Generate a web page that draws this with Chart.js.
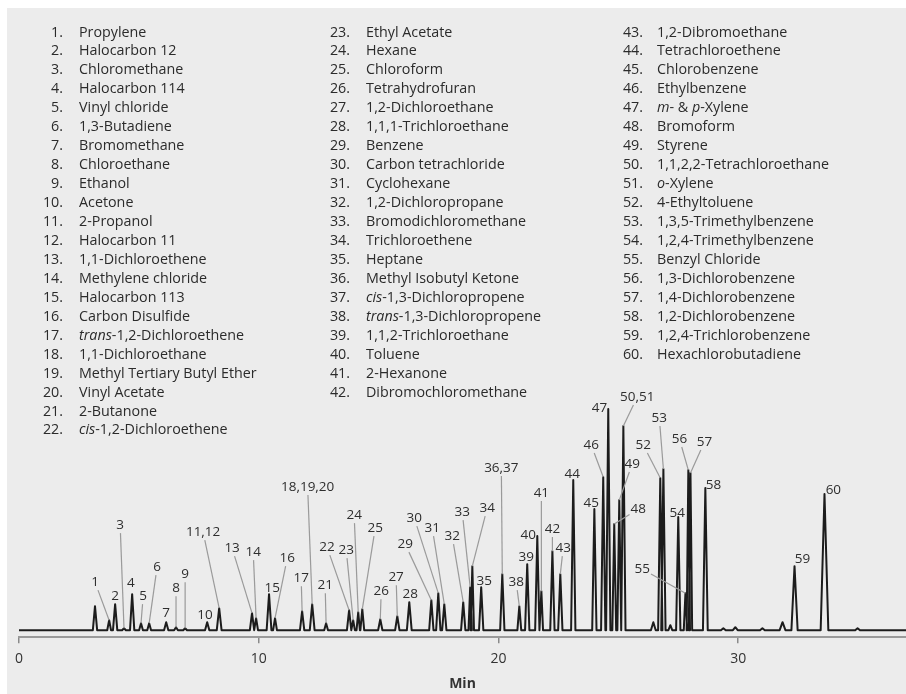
<!DOCTYPE html>
<html>
<head>
<meta charset="utf-8">
<script src="https://cdn.jsdelivr.net/npm/chart.js@4.4.1/dist/chart.umd.min.js"></script>
<style>
    html, body { margin: 0; padding: 0; background: #fff; }
    #page { position: relative; width: 906px; height: 694px; overflow: hidden; }
    #panel { position: absolute; left: 7px; top: 8px; right: 0; bottom: 0; background: #ececec; }
    #chromatogram { position: absolute; left: 0; top: 0; }
    .cmp { position: absolute; font-family: 'Open Sans', sans-serif; font-size: 14.3px; line-height: 19px; color: #2b2b2b; white-space: nowrap; }
    .cmp-num { text-align: right; width: 40px; }
</style>
</head>
<body>
<div id="page">
    <div id="panel"></div>
    <canvas id="chromatogram" width="906" height="694"></canvas>
    <div id="compoundList"></div>
</div>
<script>
// compound list (peak identification)
const compounds = [
    'Propylene', 'Halocarbon 12', 'Chloromethane', 'Halocarbon 114', 'Vinyl chloride',
    '1,3-Butadiene', 'Bromomethane', 'Chloroethane', 'Ethanol', 'Acetone',
    '2-Propanol', 'Halocarbon 11', '1,1-Dichloroethene', 'Methylene chloride', 'Halocarbon 113',
    'Carbon Disulfide', 'trans-1,2-Dichloroethene', '1,1-Dichloroethane', 'Methyl Tertiary Butyl Ether', 'Vinyl Acetate',
    '2-Butanone', 'cis-1,2-Dichloroethene', 'Ethyl Acetate', 'Hexane', 'Chloroform',
    'Tetrahydrofuran', '1,2-Dichloroethane', '1,1,1-Trichloroethane', 'Benzene', 'Carbon tetrachloride',
    'Cyclohexane', '1,2-Dichloropropane', 'Bromodichloromethane', 'Trichloroethene', 'Heptane',
    'Methyl Isobutyl Ketone', 'cis-1,3-Dichloropropene', 'trans-1,3-Dichloropropene', '1,1,2-Trichloroethane', 'Toluene',
    '2-Hexanone', 'Dibromochloromethane', '1,2-Dibromoethane', 'Tetrachloroethene', 'Chlorobenzene',
    'Ethylbenzene', 'm- & p-Xylene', 'Bromoform', 'Styrene', '1,1,2,2-Tetrachloroethane',
    'o-Xylene', '4-Ethyltoluene', '1,3,5-Trimethylbenzene', '1,2,4-Trimethylbenzene', 'Benzyl Chloride',
    '1,3-Dichlorobenzene', '1,4-Dichlorobenzene', '1,2-Dichlorobenzene', '1,2,4-Trichlorobenzene', 'Hexachlorobutadiene'
];
const columnSizes = [22, 20, 18];

// x axis
const xTicks = [0, 10, 20, 30];
const xMax = 37;

// peaks: retention time (min), height (response), half width at base (min)
const peakLabels = [
    '', '1', '2', '3', '4', '5', '6', '7', '8', '9',
    '10', '11,12', '13', '14', '15', '16', '17', '18,19,20', '21', '22',
    '23', '24', '25', '26', '27', '28', '29', '30', '31', '32',
    '33', '34', '35', '36,37', '38', '39', '40', '41', '42', '43',
    '44', '45', '46', '47', '48', '49', '50,51', '', '52', '53',
    '', '54', '55', '56', '57', '58', '', '', '', '',
    '59', '60', ''
];
const peakTimes = [
    3.17, 3.76, 4.01, 4.38, 4.72, 5.09, 5.43, 6.14, 6.55, 6.93,
    7.85, 8.35, 9.72, 9.89, 10.43, 10.68, 11.81, 12.23, 12.81, 13.77,
    13.94, 14.15, 14.32, 15.07, 15.78, 16.28, 17.20, 17.49, 17.74, 18.53,
    18.82, 18.91, 19.28, 20.16, 20.87, 21.20, 21.62, 21.79, 22.25, 22.58,
    23.12, 24.00, 24.37, 24.58, 24.83, 25.04, 25.21, 26.46, 26.75, 26.88,
    27.17, 27.50, 27.80, 27.92, 28.01, 28.63, 29.38, 29.88, 31.01, 31.85,
    32.35, 33.60, 34.98
];
const peakHeights = [
    24, 10, 26, 2, 36, 7, 7, 8, 3, 2,
    8, 22, 17, 12, 36, 12, 19, 26, 7, 20,
    10, 18, 21, 11, 14, 28, 30, 37, 26, 28,
    43, 64, 43, 56, 24, 66, 94, 39, 79, 56,
    150, 121, 153, 221, 106, 130, 204, 8, 152, 161,
    5, 113, 37, 160, 157, 142, 2, 3, 2, 8,
    64, 136, 2
];
const peakHalfWidths = [
    0.09, 0.08, 0.09, 0.08, 0.09, 0.08, 0.08, 0.09, 0.08, 0.08,
    0.09, 0.1, 0.09, 0.08, 0.1, 0.08, 0.09, 0.1, 0.08, 0.09,
    0.07, 0.07, 0.08, 0.09, 0.09, 0.1, 0.09, 0.09, 0.09, 0.09,
    0.07, 0.07, 0.09, 0.09, 0.08, 0.09, 0.09, 0.07, 0.09, 0.09,
    0.09, 0.09, 0.09, 0.09, 0.08, 0.08, 0.09, 0.1, 0.09, 0.09,
    0.08, 0.09, 0.07, 0.07, 0.07, 0.1, 0.1, 0.1, 0.1, 0.12,
    0.13, 0.16, 0.1
];

// where each peak label sits (min, response) and whether it has a leader line
const labelLayout = {
    '1': [3.17, 48, true], '2': [4.01, 34, false], '3': [4.22, 105, true], '4': [4.67, 47, false],
    '5': [5.18, 34, true], '6': [5.76, 63, true], '7': [6.14, 17, false], '8': [6.55, 42, true],
    '9': [6.93, 56, true], '10': [7.76, 15, false], '11,12': [7.68, 98, true], '13': [8.89, 82, true],
    '14': [9.77, 78, true], '15': [10.56, 42, false], '16': [11.19, 72, true], '17': [11.77, 52, true],
    '18,19,20': [12.04, 143, true], '21': [12.77, 45, true], '22': [12.85, 83, true], '23': [13.65, 80, true],
    '24': [13.98, 115, true], '25': [14.86, 102, true], '26': [15.11, 39, true], '27': [15.73, 53, true],
    '28': [16.32, 36, false], '29': [16.11, 86, true], '30': [16.49, 112, true], '31': [17.24, 102, true],
    '32': [18.07, 94, true], '33': [18.49, 118, true], '34': [19.53, 122, true], '35': [19.41, 49, false],
    '36,37': [20.12, 162, true], '38': [20.74, 48, true], '39': [21.16, 73, false], '40': [21.24, 95, false],
    '41': [21.79, 137, true], '42': [22.25, 101, true], '43': [22.70, 82, true], '44': [23.08, 156, false],
    '45': [23.87, 127, false], '46': [23.87, 185, true], '47': [24.21, 222, false], '48': [25.83, 121, true],
    '49': [25.58, 166, true], '50,51': [25.79, 233, true], '52': [26.04, 185, true], '53': [26.71, 212, true],
    '54': [27.46, 117, false], '55': [26.00, 61, true], '56': [27.55, 191, true], '57': [28.59, 188, true],
    '58': [28.97, 145, false], '59': [32.68, 71, false], '60': [33.97, 140, false]
};

document.addEventListener('DOMContentLoaded', () => {
    // compound list in three columns
    const listBox = document.getElementById('compoundList');
    const numRight = [63, 350, 643];
    const nameLeft = [79, 366, 657];
    let idx = 0;
    columnSizes.forEach((size, col) => {
        for (let row = 0; row < size; row++, idx++) {
            const top = 21.5 + row * 18.95;
            const num = document.createElement('div');
            num.className = 'cmp cmp-num';
            num.style.left = (numRight[col] - 40) + 'px';
            num.style.top = top + 'px';
            num.textContent = (idx + 1) + '.';
            const name = document.createElement('div');
            name.className = 'cmp';
            name.style.left = nameLeft[col] + 'px';
            name.style.top = top + 'px';
            // italic isomer prefixes (cis-, trans-, m-, p-, o-)
            name.innerHTML = compounds[idx].replace(/(^|\s)(cis|trans|m|p|o)-/g, '$1<i>$2</i>-');
            listBox.appendChild(num);
            listBox.appendChild(name);
        }
    });

    // chromatogram trace: each peak as a narrow spike on the baseline
    const trace = [{ x: 0, y: 0 }];
    peakTimes.forEach((t, i) => {
        const w = peakHalfWidths[i];
        trace.push({ x: t - w, y: 0 }, { x: t, y: peakHeights[i] }, { x: t + w, y: 0 });
    });
    trace.push({ x: xMax, y: 0 });

    // peak numbers with grey leader lines
    const peakLabelPlugin = {
        id: 'peakLabels',
        afterDatasetsDraw(chart) {
            const { ctx, scales: { x, y } } = chart;
            ctx.save();
            ctx.font = '13.5px "Open Sans"';
            ctx.textAlign = 'center';
            ctx.textBaseline = 'middle';
            peakLabels.forEach((lab, i) => {
                if (!lab) return;
                const [lt, ly, leader] = labelLayout[lab];
                const tx = x.getPixelForValue(lt);
                const ty = y.getPixelForValue(ly);
                if (leader) {
                    const px = x.getPixelForValue(peakTimes[i]);
                    const py = y.getPixelForValue(peakHeights[i]);
                    const hw = ctx.measureText(lab).width / 2 + 1;
                    const hh = 8;
                    const dx = px - tx, dy = py - ty;
                    const s = Math.min(dx ? hw / Math.abs(dx) : Infinity, dy ? hh / Math.abs(dy) : Infinity);
                    ctx.beginPath();
                    ctx.moveTo(tx + dx * s, ty + dy * s);
                    ctx.lineTo(px, py);
                    ctx.strokeStyle = '#9a9a9a';
                    ctx.lineWidth = 1.2;
                    ctx.stroke();
                }
                ctx.fillStyle = '#2e2e2e';
                ctx.fillText(lab, tx, ty);
            });
            ctx.restore();
        }
    };

    const ctx = document.getElementById('chromatogram').getContext('2d');
    new Chart(ctx, {
        type: 'line',
        data: {
            datasets: [{
                data: trace,
                borderColor: '#1c1c1c',
                borderWidth: 2,
                borderJoinStyle: 'round',
                pointRadius: 0,
                tension: 0,
                fill: false
            }]
        },
        options: {
            responsive: false,
            animation: false,
            layout: { padding: { top: 390, left: 19, right: 0, bottom: 2 } },
            plugins: { legend: { display: false }, tooltip: { enabled: false } },
            scales: {
                x: {
                    type: 'linear',
                    min: 0,
                    max: xMax,
                    afterBuildTicks: axis => { axis.ticks = xTicks.map(v => ({ value: v })); },
                    // note: chart.js reserves 2x tick padding in the axis height
                    ticks: { color: '#333', font: { family: 'Open Sans', size: 14 }, padding: 7.6, maxRotation: 0 },
                    grid: { drawOnChartArea: false, drawTicks: true, tickLength: 6, color: '#8a8a8a', lineWidth: 1.5 },
                    border: { display: true, color: '#9a9a9a', width: 2 },
                    title: {
                        display: true, text: 'Min', color: '#333',
                        font: { family: 'Open Sans', size: 14, weight: 'bold' },
                        padding: { top: 0, bottom: 0 }
                    }
                },
                y: { display: false, min: -7, max: 240 }
            }
        },
        plugins: [peakLabelPlugin]
    });
});
</script>
</body>
</html>
